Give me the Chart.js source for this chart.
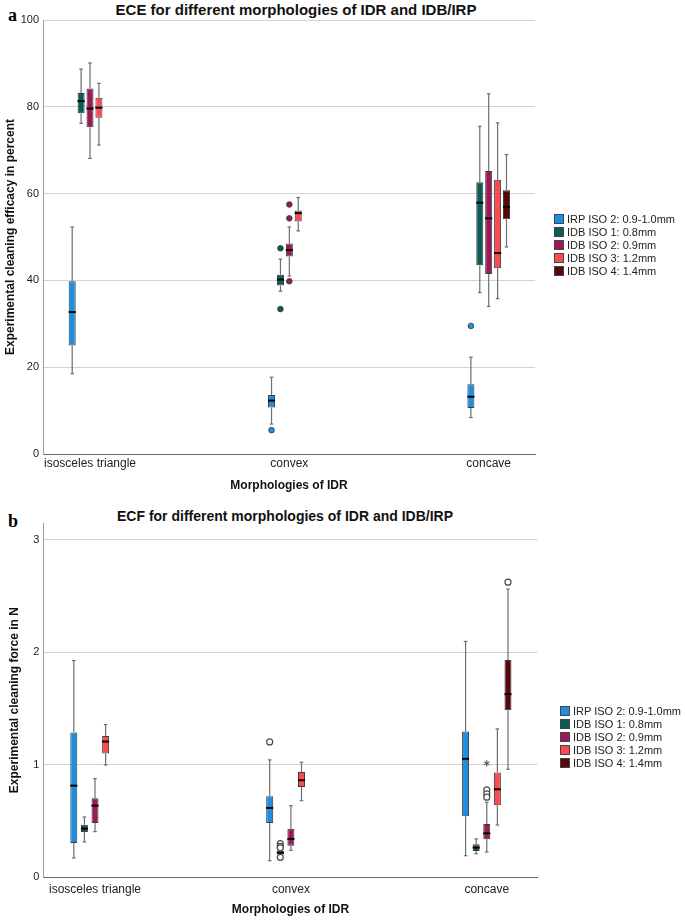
<!DOCTYPE html>
<html>
<head>
<meta charset="utf-8">
<script src="https://cdn.jsdelivr.net/npm/chart.js@4.4.1/dist/chart.umd.min.js"></script>
<style>
  html,body{margin:0;padding:0;background:#fff;}
  body{width:685px;height:920px;position:relative;overflow:hidden;font-family:'Liberation Sans',Arial,sans-serif;}
  .panel{position:absolute;left:0;width:685px;}
  .ttl{position:absolute;font-weight:bold;white-space:nowrap;transform:translate(-50%,-50%);color:#111;}
  .lbl{position:absolute;font-family:'Liberation Serif','Times New Roman',serif;font-weight:bold;font-size:18px;color:#000;line-height:1;}
  .legend{position:absolute;font-size:11px;color:#222;}
  .legend .it{display:flex;align-items:center;white-space:nowrap;}
  .legend .sw{display:inline-block;width:8px;height:8px;border:1px solid #444;margin-right:3px;}
</style>
</head>
<body>
<div class="lbl" style="left:8px;top:6px;">a</div>
<div class="ttl" id="titleA" style="left:296px;top:9px;font-size:15px;"></div>
<div class="panel" style="top:0;height:500px;"><canvas id="chartA" width="685" height="500"></canvas></div>
<div class="legend" id="legendA" style="left:554px;top:212px;"></div>

<div class="lbl" style="left:8px;top:512px;">b</div>
<div class="ttl" id="titleB" style="left:285px;top:516px;font-size:14px;"></div>
<div class="panel" style="top:500px;height:420px;"><canvas id="chartB" width="685" height="420"></canvas></div>
<div class="legend" id="legendB" style="left:560px;top:704px;"></div>

<script>
// ---------- data ----------
const categories = ['isosceles triangle', 'convex', 'concave'];
const seriesNames = ['IRP ISO 2: 0.9-1.0mm', 'IDB ISO 1: 0.8mm', 'IDB ISO 2: 0.9mm', 'IDB ISO 3: 1.2mm', 'IDB ISO 4: 1.4mm'];
const seriesColors = ['#1c8fe3', '#0b5b56', '#9b1a55', '#fb4b51', '#5a070c'];

const titleECE = 'ECE for different morphologies of IDR and IDB/IRP';
const titleECF = 'ECF for different morphologies of IDR and IDB/IRP';
const yTitleECE = 'Experimental cleaning efficacy in percent';
const yTitleECF = 'Experimental cleaning force in N';
const xTitle = 'Morphologies of IDR';

const eceTicks = [0, 20, 40, 60, 80, 100];
const ecfTicks = [0, 1, 2, 3];

// ECE (percent): per series, per category [isosceles triangle, convex, concave]
const eceMin    = [[18.5, 6.9, 8.4], [76.2, 37.5, 37.2], [68.1, 41.0, 34.0], [71.2, 51.4, 35.8], [null, null, 47.7]];
const eceQ1     = [[25.0, 10.7, 10.6], [78.5, 38.8, 43.5], [75.3, 45.5, 41.5], [77.5, 53.6, 42.8], [null, null, 54.1]];
const eceMedian = [[32.7, 12.3, 13.2], [81.3, 40.2, 57.9], [79.6, 47.0, 54.3], [79.8, 55.5, 46.3], [null, null, 56.9]];
const eceQ3     = [[39.8, 13.6, 16.1], [83.2, 41.3, 62.6], [84.2, 48.5, 65.2], [82.1, 56.1, 63.2], [null, null, 60.8]];
const eceMax    = [[52.3, 17.7, 22.3], [88.7, 44.9, 75.5], [90.1, 52.3, 83.0], [85.4, 59.1, 76.3], [null, null, 69.0]];
const eceOutliers = [[[], [5.5], [29.5]], [[], [47.4, 33.4], []], [[], [57.5, 54.3, 39.8], []], [[], [], []], [[], [], []]];
const eceExtremes = [[[], [], []], [[], [], []], [[], [], []], [[], [], []], [[], [], []]];

// ECF (N)
const ecfMin    = [[0.172, 0.148, 0.192], [0.314, 0.190, 0.210], [0.406, 0.240, 0.225], [0.999, 0.681, 0.465], [null, null, 0.961]];
const ecfQ1     = [[0.305, 0.483, 0.543], [0.403, 0.203, 0.234], [0.483, 0.281, 0.338], [1.100, 0.803, 0.641], [null, null, 1.486]];
const ecfMedian = [[0.815, 0.617, 1.053], [0.433, 0.218, 0.264], [0.637, 0.341, 0.391], [1.207, 0.863, 0.783], [null, null, 1.628]];
const ecfQ3     = [[1.287, 0.720, 1.296], [0.468, 0.235, 0.294], [0.703, 0.432, 0.474], [1.257, 0.937, 0.931], [null, null, 1.933]];
const ecfMax    = [[1.927, 1.044, 2.097], [0.536, 0.250, 0.341], [0.877, 0.637, 0.667], [1.358, 1.023, 1.319], [null, null, 2.562]];
const ecfOutliers = [[[], [1.204], []], [[], [0.300, 0.275, 0.262, 0.178], []], [[], [], [0.777, 0.741, 0.712]], [[], [], []], [[], [], [2.624]]];
const ecfExtremes = [[[], [], []], [[], [], []], [[], [], [1.013]], [[], [], []], [[], [], []]];

// ---------- text / legends ----------
document.getElementById('titleA').textContent = titleECE;
document.getElementById('titleB').textContent = titleECF;
function buildLegend(id, step) {
  const el = document.getElementById(id);
  seriesNames.forEach((n, i) => {
    const it = document.createElement('div');
    it.className = 'it';
    it.style.height = step + 'px';
    const sw = document.createElement('span');
    sw.className = 'sw';
    sw.style.background = seriesColors[i];
    const tx = document.createElement('span');
    tx.textContent = n;
    it.appendChild(sw); it.appendChild(tx);
    el.appendChild(it);
  });
}
buildLegend('legendA', 13.2);
buildLegend('legendB', 13);

// ---------- box plot decorations (whiskers, medians, outliers) ----------
const boxDecor = {
  id: 'boxDecor',
  beforeDatasetsDraw(chart, args, o) {
    const ctx = chart.ctx, y = chart.scales.y;
    ctx.save();
    ctx.strokeStyle = '#6e6e6e';
    ctx.lineWidth = 1.2;
    chart.data.datasets.forEach((ds, s) => {
      const meta = chart.getDatasetMeta(s);
      meta.data.forEach((el, i) => {
        if (o.q1[s][i] == null) return;
        const x = el.x;
        const segs = [[o.q3[s][i], o.max[s][i]], [o.q1[s][i], o.min[s][i]]];
        segs.forEach(([a, b]) => {
          const ya = y.getPixelForValue(a), yb = y.getPixelForValue(b);
          ctx.beginPath(); ctx.moveTo(x, ya); ctx.lineTo(x, yb); ctx.stroke();
          ctx.beginPath(); ctx.moveTo(x - 1.8, yb); ctx.lineTo(x + 1.8, yb); ctx.stroke();
        });
      });
    });
    ctx.restore();
  },
  afterDatasetsDraw(chart, args, o) {
    const ctx = chart.ctx, y = chart.scales.y;
    ctx.save();
    chart.data.datasets.forEach((ds, s) => {
      const meta = chart.getDatasetMeta(s);
      meta.data.forEach((el, i) => {
        const x = el.x;
        if (o.q1[s][i] != null) {
          const ym = y.getPixelForValue(o.median[s][i]);
          ctx.strokeStyle = '#000';
          ctx.lineWidth = 2;
          ctx.beginPath(); ctx.moveTo(x - el.width / 2, ym); ctx.lineTo(x + el.width / 2, ym); ctx.stroke();
        }
        (o.outliers[s][i] || []).forEach(v => {
          const yp = y.getPixelForValue(v);
          ctx.beginPath(); ctx.arc(x, yp, o.filled ? 2.8 : 3.0, 0, Math.PI * 2);
          if (o.filled) {
            ctx.fillStyle = seriesColors[s]; ctx.fill();
            ctx.strokeStyle = '#333'; ctx.lineWidth = 0.8; ctx.stroke();
          } else {
            ctx.fillStyle = '#fff'; ctx.fill();
            ctx.strokeStyle = '#4a4a4a'; ctx.lineWidth = 1.2; ctx.stroke();
          }
        });
        (o.extremes[s][i] || []).forEach(v => {
          const yp = y.getPixelForValue(v);
          ctx.strokeStyle = '#444'; ctx.lineWidth = 1;
          const r = 3.2;
          for (let k = 0; k < 3; k++) {
            const ang = Math.PI / 2 + k * Math.PI / 3;
            ctx.beginPath();
            ctx.moveTo(x - r * Math.cos(ang), yp - r * Math.sin(ang));
            ctx.lineTo(x + r * Math.cos(ang), yp + r * Math.sin(ang));
            ctx.stroke();
          }
        });
      });
    });
    ctx.restore();
  }
};

function makeBoxChart(canvasId, st) {
  const datasets = seriesNames.map((name, s) => ({
    label: name,
    data: categories.map((c, i) => ({ x: i, y: st.q1[s][i] == null ? null : [st.q1[s][i], st.q3[s][i]] })),
    backgroundColor: seriesColors[s],
    borderColor: '#3c3c3c',
    borderWidth: 1,
    borderSkipped: false,
    categoryPercentage: st.catPct,
    barPercentage: st.barPct,
    grouped: true
  }));
  return new Chart(document.getElementById(canvasId), {
    type: 'bar',
    data: { datasets },
    plugins: [boxDecor],
    options: {
      responsive: false,
      animation: false,
      devicePixelRatio: 1,
      layout: { padding: { top: st.padTop, right: st.padRight, left: 0, bottom: 0 } },
      plugins: {
        legend: { display: false },
        tooltip: { enabled: false },
        boxDecor: { min: st.min, q1: st.q1, median: st.median, q3: st.q3, max: st.max,
                    outliers: st.outliers, extremes: st.extremes, filled: st.filled }
      },
      scales: {
        x: {
          type: 'linear',
          offset: false,
          min: st.xMin, max: st.xMax,
          afterBuildTicks: sc => { sc.ticks = categories.map((c, i) => ({ value: i })); },
          afterFit: sc => { sc.height = st.xHeight; },
          ticks: { callback: v => categories[v], font: { family: 'Liberation Sans', size: 12 }, color: '#222', padding: st.xTickPad, maxRotation: 0, autoSkip: false },
          grid: { display: false, drawTicks: false },
          border: { display: true, color: '#6a6a6a', width: 1 },
          title: { display: true, text: xTitle, color: '#111', font: { family: 'Liberation Sans', size: 12, weight: 'bold' }, padding: { top: 0, bottom: st.xTitlePad } }
        },
        y: {
          type: 'linear',
          min: 0, max: st.yMax,
          afterBuildTicks: sc => { sc.ticks = st.ticks.map(v => ({ value: v })); },
          afterFit: sc => { sc.width = st.yWidth; },
          ticks: { font: { family: 'Liberation Sans', size: 11 }, color: '#222', padding: 4 },
          grid: { color: c => (c.tick && c.tick.value === 0) ? 'rgba(0,0,0,0)' : '#d3d3d3', drawTicks: false, lineWidth: 1 },
          border: { display: true, color: '#9c9c9c', width: 1 },
          title: { display: true, text: st.yTitle, color: '#111', font: { family: 'Liberation Sans', size: 12, weight: 'bold' }, padding: { top: st.yTitlePad, bottom: 0 } }
        }
      }
    }
  });
}

makeBoxChart('chartA', {
  min: eceMin, q1: eceQ1, median: eceMedian, q3: eceQ3, max: eceMax,
  outliers: eceOutliers, extremes: eceExtremes, filled: true,
  ticks: eceTicks, yMax: 100, yTitle: yTitleECE,
  xMin: -0.2358, xMax: 2.2323, catPct: 0.2233, barPct: 0.79,
  padTop: 20, padRight: 150, xHeight: 46, xTickPad: 2, xTitlePad: 6.8, yWidth: 43, yTitlePad: 3
});

makeBoxChart('chartB', {
  min: ecfMin, q1: ecfQ1, median: ecfMedian, q3: ecfQ3, max: ecfMax,
  outliers: ecfOutliers, extremes: ecfExtremes, filled: false,
  ticks: ecfTicks, yMax: 3.15, yTitle: yTitleECF,
  xMin: -0.264, xMax: 2.26, catPct: 0.2706, barPct: 0.66,
  padTop: 23, padRight: 147.3, xHeight: 42.7, xTickPad: 5.5, xTitlePad: 2.8, yWidth: 43.3, yTitlePad: 7
});
</script>
</body>
</html>
